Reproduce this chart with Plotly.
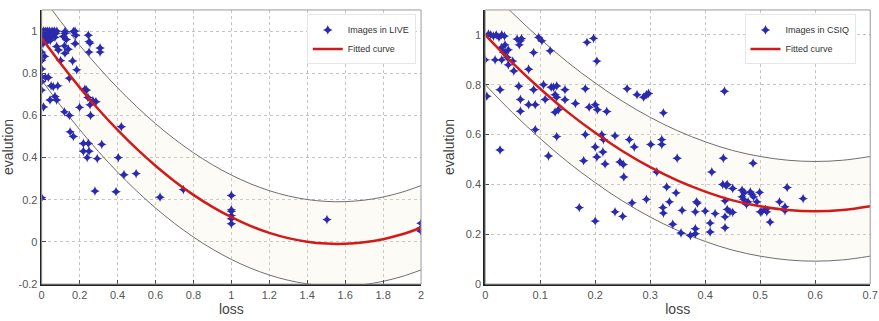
import plotly.graph_objects as go

# ---------------- LIVE (left) ----------------
live_x = [0.0, 0.005, 0.01, 0.012, 0.015, 0.02, 0.022, 0.025, 0.028, 0.03, 0.032, 0.035, 0.038, 0.04,
          0.042, 0.045, 0.048, 0.05, 0.052, 0.055, 0.058, 0.06, 0.062, 0.065, 0.068, 0.07, 0.075, 0.08,
          0.005, 0.018, 0.03, 0.045,
          0.114, 0.123, 0.123, 0.167, 0.176, 0.18, 0.246, 0.25, 0.255, 0.13, 0.12, 0.079, 0.088, 0.123,
          0.14, 0.176, 0.25, 0.308, 0.308, 0.10, 0.163, 0.185, 0.0, 0.016, 0.007, 0.0, 0.0, 0.0, 0.0,
          0.02, 0.035, 0.05, 0.061, 0.085, 0.0, 0.07, 0.044, 0.079, 0.01, 0.146, 0.228, 0.237, 0.244,
          0.27, 0.286, 0.255, 0.12, 0.146, 0.2, 0.258, 0.42, 0.15, 0.167, 0.22, 0.246, 0.317, 0.22,
          0.25, 0.24, 0.293, 0.404, 0.434, 0.498, 0.281, 0.392, 0.0, 0.624, 0.747,
          1.0, 1.0, 1.0, 1.0, 1.0, 1.0, 1.504, 2.0, 2.0, 2.0, 2.0]
live_y = [1.0, 0.99, 1.0, 0.98, 0.995, 0.985, 1.0, 0.97, 0.99, 1.0, 0.98, 0.995, 0.975, 0.99,
          1.0, 0.985, 0.965, 0.995, 0.98, 1.0, 0.99, 0.975, 0.995, 0.985, 1.0, 0.97, 0.99, 1.0,
          0.96, 0.955, 0.95, 0.955,
          0.974, 0.99, 0.998, 0.998, 1.0, 0.98, 0.98, 0.95, 0.943, 0.96, 0.93, 0.927, 0.91, 0.895,
          0.914, 0.94, 0.90, 0.92, 0.90, 0.86, 0.858, 0.816, 0.86, 0.88, 0.94, 0.90, 0.82, 0.784, 0.76,
          0.78, 0.78, 0.74, 0.736, 0.74, 0.72, 0.69, 0.673, 0.673, 0.64, 0.776, 0.724, 0.72, 0.685,
          0.67, 0.665, 0.65, 0.617, 0.60, 0.638, 0.60, 0.546, 0.522, 0.50, 0.467, 0.467, 0.463, 0.43,
          0.43, 0.40, 0.395, 0.40, 0.319, 0.324, 0.241, 0.238, 0.21, 0.212, 0.248,
          0.22, 0.152, 0.145, 0.125, 0.11, 0.086, 0.106, 0.089, 0.067, 0.05, 0.057]

live_curve_x = [0.0, 0.1, 0.2, 0.3, 0.4, 0.5, 0.6, 0.7, 0.8, 0.9, 1.0, 1.1, 1.2, 1.3, 1.4, 1.5, 1.6,
                1.7, 1.8, 1.9, 2.0]
live_fit = [0.967, 0.846, 0.733, 0.628, 0.531, 0.442, 0.361, 0.288, 0.223, 0.166, 0.117, 0.076, 0.043,
            0.018, 0.001, -0.008, -0.009, -0.002, 0.013, 0.036, 0.067]
live_upper = [1.167, 1.046, 0.933, 0.828, 0.731, 0.642, 0.561, 0.488, 0.423, 0.366, 0.317, 0.276, 0.243,
              0.218, 0.201, 0.192, 0.191, 0.198, 0.213, 0.236, 0.267]
live_lower = [0.767, 0.646, 0.533, 0.428, 0.331, 0.242, 0.161, 0.088, 0.023, -0.034, -0.083, -0.124, -0.157,
              -0.182, -0.199, -0.208, -0.209, -0.202, -0.187, -0.164, -0.133]

# ---------------- CSIQ (right) ----------------
csiq_x = [0.006, 0.01, 0.015, 0.02, 0.025, 0.03, 0.035, 0.0, 0.018, 0.03, 0.04, 0.05, 0.03, 0.033, 0.036,
          0.042, 0.036, 0.042, 0.052, 0.058, 0.064, 0.062, 0.066, 0.088, 0.097, 0.103, 0.118, 0.079, 0.027,
          0.003, 0.061, 0.064, 0.064, 0.079, 0.091, 0.088, 0.091, 0.106, 0.109, 0.12, 0.124, 0.13, 0.127,
          0.13, 0.127, 0.133, 0.145, 0.145, 0.164, 0.13, 0.115, 0.027, 0.182, 0.185, 0.197, 0.203, 0.189,
          0.2, 0.204, 0.221, 0.182, 0.212, 0.215, 0.2, 0.236, 0.258, 0.276, 0.288, 0.293, 0.297, 0.262,
          0.271, 0.301, 0.321, 0.321, 0.324, 0.349, 0.435, 0.433,
          0.179, 0.203, 0.214, 0.218, 0.245, 0.251, 0.252, 0.312, 0.33, 0.347, 0.171, 0.2, 0.236, 0.25,
          0.267, 0.293, 0.323, 0.324, 0.335, 0.341, 0.356, 0.358, 0.373, 0.382, 0.382, 0.384, 0.382,
          0.386, 0.4, 0.409, 0.409, 0.412, 0.418, 0.432, 0.438, 0.44, 0.45, 0.436, 0.436, 0.436, 0.44,
          0.445, 0.45, 0.467, 0.471, 0.467, 0.47, 0.475, 0.478, 0.482, 0.485, 0.488, 0.487, 0.494, 0.499,
          0.5, 0.503, 0.51, 0.512, 0.518, 0.535, 0.545, 0.545, 0.549, 0.578]
csiq_y = [1.003, 1.0, 0.995, 1.0, 0.99, 1.0, 0.995, 0.90, 0.90, 0.90, 0.91, 0.895, 0.95, 0.93, 0.96,
          0.94, 0.93, 0.88, 0.855, 0.983, 0.976, 0.96, 0.985, 0.929, 0.99, 0.976, 0.936, 0.862, 0.78,
          0.754, 0.794, 0.741, 0.694, 0.72, 0.72, 0.78, 0.62, 0.80, 0.741, 0.79, 0.79, 0.795, 0.76,
          0.75, 0.69, 0.70, 0.78, 0.74, 0.725, 0.592, 0.514, 0.538, 0.784, 0.97, 0.986, 0.895, 0.71,
          0.72, 0.70, 0.693, 0.60, 0.60, 0.58, 0.55, 0.595, 0.784, 0.76, 0.75, 0.76, 0.765, 0.58,
          0.55, 0.56, 0.58, 0.56, 0.687, 0.505, 0.774, 0.505,
          0.495, 0.51, 0.53, 0.482, 0.49, 0.48, 0.43, 0.45, 0.39, 0.366, 0.307, 0.253, 0.29, 0.272,
          0.326, 0.34, 0.307, 0.285, 0.33, 0.24, 0.205, 0.296, 0.195, 0.202, 0.222, 0.33, 0.29,
          0.325, 0.293, 0.245, 0.209, 0.45, 0.283, 0.40, 0.395, 0.40, 0.384, 0.334, 0.27, 0.226, 0.30,
          0.29, 0.288, 0.377, 0.366, 0.35, 0.34, 0.32, 0.33, 0.37, 0.36, 0.35, 0.485, 0.33, 0.368,
          0.29, 0.29, 0.30, 0.29, 0.249, 0.33, 0.31, 0.295, 0.388, 0.343]

csiq_curve_x = [0.0, 0.05, 0.1, 0.15, 0.2, 0.25, 0.3, 0.35, 0.4, 0.45, 0.5, 0.55, 0.6, 0.65, 0.7]
csiq_fit = [1.000, 0.887, 0.784, 0.690, 0.607, 0.533, 0.469, 0.415, 0.371, 0.336, 0.312, 0.297, 0.292,
            0.297, 0.312]
csiq_upper = [1.200, 1.087, 0.984, 0.890, 0.807, 0.733, 0.669, 0.615, 0.571, 0.536, 0.512, 0.497, 0.492,
              0.497, 0.512]
csiq_lower = [0.800, 0.687, 0.584, 0.490, 0.407, 0.333, 0.269, 0.215, 0.171, 0.136, 0.112, 0.097, 0.092,
              0.097, 0.112]

live_xticks = [0, 0.2, 0.4, 0.6, 0.8, 1, 1.2, 1.4, 1.6, 1.8, 2]
live_xticklabels = ["0", "0.2", "0.4", "0.6", "0.8", "1", "1.2", "1.4", "1.6", "1.8", "2"]
live_yticks = [-0.2, 0, 0.2, 0.4, 0.6, 0.8, 1]
live_yticklabels = ["-0.2", "0", "0.2", "0.4", "0.6", "0.8", "1"]
csiq_xticks = [0, 0.1, 0.2, 0.3, 0.4, 0.5, 0.6, 0.7]
csiq_xticklabels = ["0", "0.1", "0.2", "0.3", "0.4", "0.5", "0.6", "0.7"]
csiq_yticks = [0, 0.2, 0.4, 0.6, 0.8, 1]
csiq_yticklabels = ["0", "0.2", "0.4", "0.6", "0.8", "1"]

MARKER = "#2a2ab0"
RED = "#d21a1a"
BAND = "#6e6e6e"
FILL = "rgba(240,230,190,0.16)"
FONT = "Liberation Sans, Arial, sans-serif"

fig = go.Figure()


def add_panel(xa, ya, px, py, cx, fit, up, lo, name, legend):
    fig.add_trace(go.Scatter(x=cx, y=up, mode="lines", line=dict(color=BAND, width=1, shape="spline"),
                             xaxis=xa, yaxis=ya, showlegend=False, hoverinfo="skip"))
    fig.add_trace(go.Scatter(x=cx, y=lo, mode="lines", line=dict(color=BAND, width=1, shape="spline"),
                             fill="tonexty", fillcolor=FILL,
                             xaxis=xa, yaxis=ya, showlegend=False, hoverinfo="skip"))
    fig.add_trace(go.Scatter(x=px, y=py, mode="markers", name=name,
                             marker=dict(symbol="star-diamond", size=7, color=MARKER),
                             xaxis=xa, yaxis=ya, legend=legend))
    fig.add_trace(go.Scatter(x=cx, y=fit, mode="lines", name="Fitted curve",
                             line=dict(color=RED, width=2.5, shape="spline"),
                             xaxis=xa, yaxis=ya, legend=legend))


add_panel("x", "y", live_x, live_y, live_curve_x, live_fit, live_upper, live_lower,
          "Images in LIVE", "legend")
add_panel("x2", "y2", csiq_x, csiq_y, csiq_curve_x, csiq_fit, csiq_upper, csiq_lower,
          "Images in CSIQ", "legend2")

axis_common = dict(showline=True, linecolor="#222", linewidth=2, mirror=False, automargin=False,
                   showgrid=True, gridcolor="#c4c4c4", griddash="dot", gridwidth=1,
                   ticks="inside", ticklen=4, tickcolor="#444", zeroline=False,
                   tickfont=dict(family=FONT, size=11, color="#555"),
                   title_font=dict(family=FONT, size=14, color="#444"))

ydom = [0.115, 0.969]
legend_common = dict(xanchor="left", yanchor="top", bgcolor="white", traceorder="normal",
                     bordercolor="#e6e6e6", borderwidth=1, font=dict(family=FONT, size=9, color="#333"),
                     itemwidth=30, tracegroupgap=0)
fig.update_layout(
    width=879, height=321,
    margin=dict(l=0, r=0, t=0, b=0),
    paper_bgcolor="white", plot_bgcolor="white",
    font=dict(family=FONT),
    xaxis=dict(domain=[0.0474, 0.479], range=[0, 2], tickvals=live_xticks, ticktext=live_xticklabels,
               title=dict(text="loss", standoff=4), anchor="y", **axis_common),
    yaxis=dict(domain=ydom, range=[-0.2, 1.1], tickvals=live_yticks, ticktext=live_yticklabels,
               title=dict(text="evalution", standoff=8), anchor="x", **axis_common),
    xaxis2=dict(domain=[0.552, 0.990], range=[0, 0.7], tickvals=csiq_xticks, ticktext=csiq_xticklabels,
                title=dict(text="loss", standoff=4), anchor="y2", **axis_common),
    yaxis2=dict(domain=ydom, range=[0, 1.1], tickvals=csiq_yticks, ticktext=csiq_yticklabels,
                title=dict(text="evalution", standoff=8), anchor="x2", **axis_common),
    legend=dict(x=0.349, y=0.955, **legend_common),
    legend2=dict(x=0.847, y=0.955, **legend_common),
)

# light frame on top/right sides
for xr, yr in (("x domain", "y domain"), ("x2 domain", "y2 domain")):
    fig.add_shape(type="rect", xref=xr, yref=yr, x0=0, x1=1, y0=0, y1=1,
                  line=dict(color="#9a9a9a", width=1), layer="above")

fig.write_html("out.html", config={"displayModeBar": False},
               post_script="document.body.style.margin='0';document.body.style.overflow='hidden';")
